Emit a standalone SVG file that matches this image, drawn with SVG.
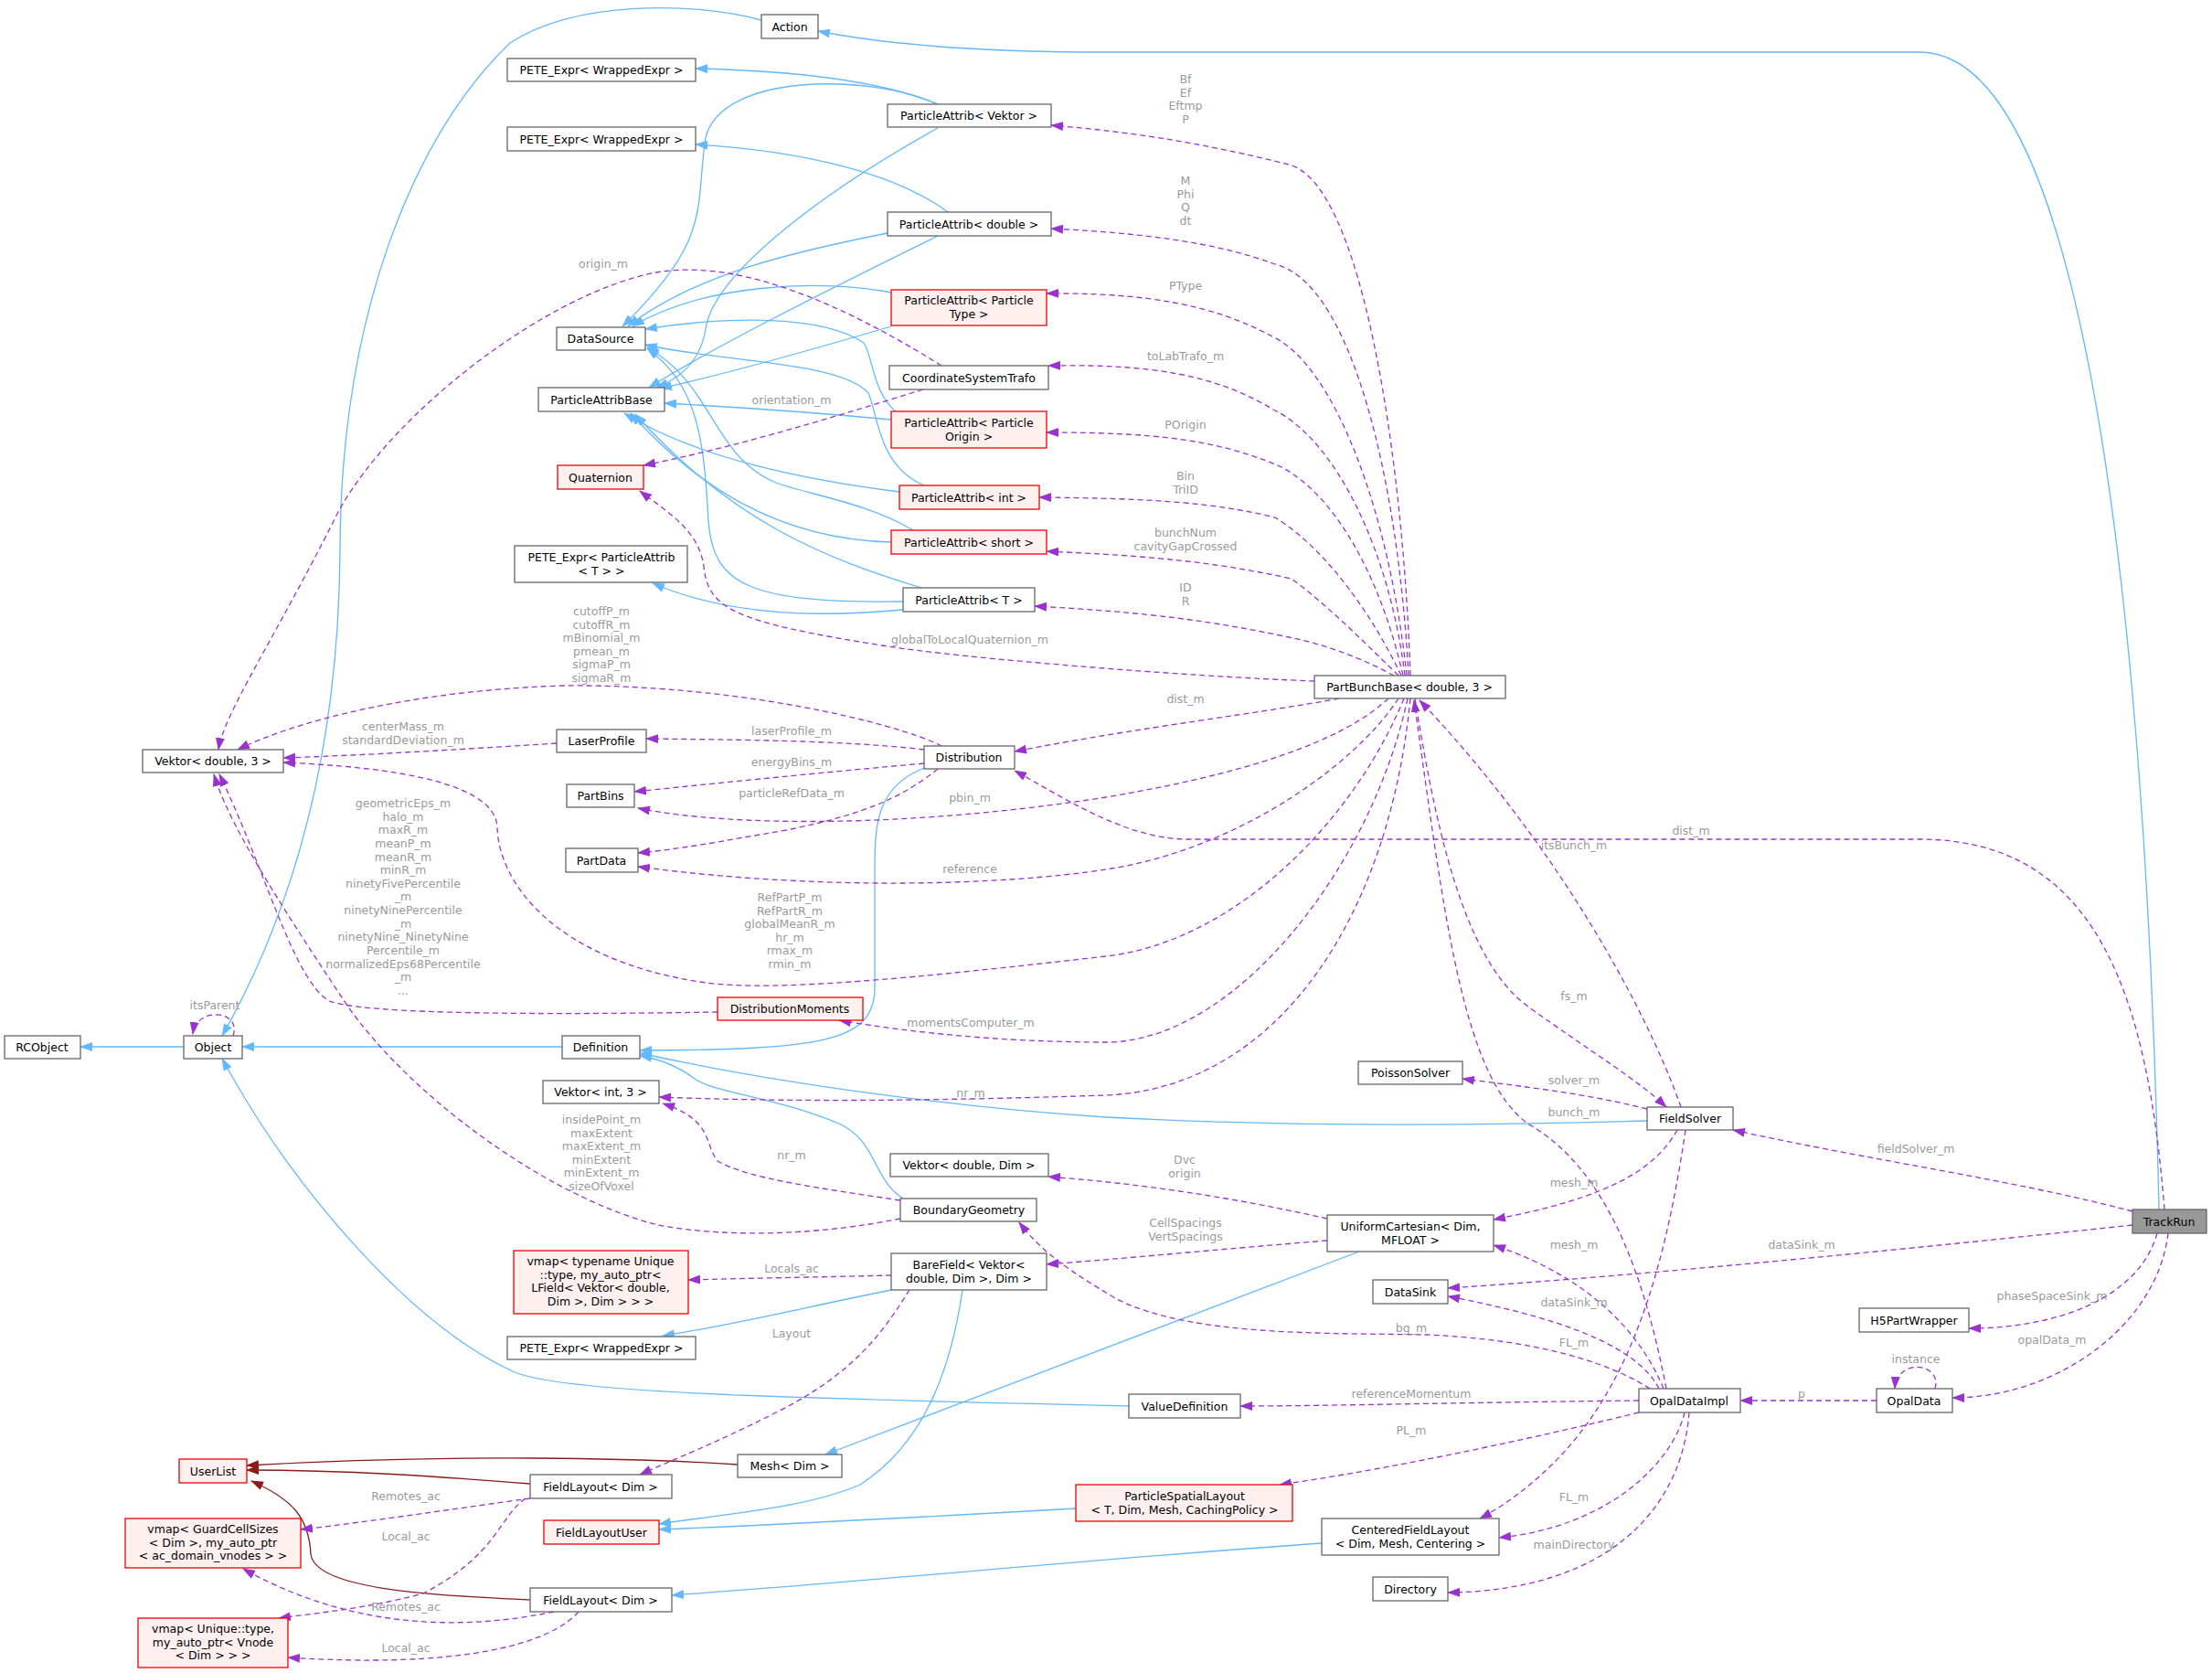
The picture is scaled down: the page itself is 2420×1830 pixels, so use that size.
<svg xmlns="http://www.w3.org/2000/svg" width="2420" height="1830" viewBox="0 0 2420 1830">
<style>
text{font-family:"DejaVu Sans","Liberation Sans",sans-serif;font-size:12.5px;text-anchor:middle;fill:#000}
.n rect{fill:#fff;stroke:#666;stroke-width:1.3}
.r rect{fill:#fff0f0;stroke:#e00;stroke-width:1.3}
.g rect{fill:#999;stroke:#666;stroke-width:1.3}
.b{fill:none;stroke:#63b8ff;stroke-width:1.3;marker-end:url(#ab)}
.d{fill:none;stroke:#8b1a1a;stroke-width:1.3;marker-end:url(#ad)}
.p{fill:none;stroke:#9a32cd;stroke-width:1.3;stroke-dasharray:6,4;marker-end:url(#ap)}
.l text{fill:#9a9a9a}
</style>
<defs>
<marker id="ab" markerWidth="14" markerHeight="10" refX="13" refY="5" orient="auto" markerUnits="userSpaceOnUse"><path d="M0,0 L14,5 L0,10 z" fill="#63b8ff"/></marker>
<marker id="ad" markerWidth="14" markerHeight="10" refX="13" refY="5" orient="auto" markerUnits="userSpaceOnUse"><path d="M0,0 L14,5 L0,10 z" fill="#8b1a1a"/></marker>
<marker id="ap" markerWidth="14" markerHeight="10" refX="13" refY="5" orient="auto" markerUnits="userSpaceOnUse"><path d="M0,0 L14,5 L0,10 z" fill="#9a32cd"/></marker>
</defs>
<rect width="2420" height="1830" fill="#fff"/>
<g id="edges">
<path class="b" d="M2362,1323 C2350,800 2300,57 2100,57 L1200,57 C1050,57 950,45 895,34"/>
<path class="b" d="M833,22 C760,2 630,0 558,47 C450,150 373,350 372,600 C371,800 330,980 243,1133"/>
<path class="b" d="M1026,114 C980,95 900,78 761,75"/>
<path class="b" d="M1026,114 C950,80 790,80 772,150 C760,230 780,260 681,357"/>
<path class="b" d="M1026,140 C900,210 780,300 772,360 C765,400 740,415 718,424"/>
<path class="b" d="M1037,232 C980,190 880,165 761,158"/>
<path class="b" d="M971,255 C870,275 760,300 687,357"/>
<path class="b" d="M1026,258 C900,320 780,380 710,424"/>
<path class="b" d="M975,320 C900,305 770,310 692,357"/>
<path class="b" d="M975,357 C880,385 790,410 722,425"/>
<path class="b" d="M980,450 C955,430 955,390 945,375 C900,345 800,345 706,360"/>
<path class="b" d="M975,459 C900,452 800,445 727,441"/>
<path class="b" d="M1011,531 C960,510 960,450 950,430 C920,395 780,395 706,377"/>
<path class="b" d="M984,538 C880,525 760,500 683,452"/>
<path class="b" d="M999,580 C950,550 880,540 849,528 C780,500 780,420 708,380"/>
<path class="b" d="M975,593 C850,590 760,530 690,452"/>
<path class="b" d="M988,658 C820,660 780,640 775,570 C770,470 760,420 708,381"/>
<path class="b" d="M1008,643 C900,610 800,570 695,453"/>
<path class="b" d="M988,667 C900,675 800,675 714,638"/>
<path class="b" d="M201,1145 L88,1145"/>
<path class="b" d="M615,1145 L265,1145"/>
<path class="b" d="M1011,840 C960,860 957,900 957,950 L957,1080 C957,1140 900,1148 700,1149"/>
<path class="b" d="M1802,1226 C1600,1232 1400,1232 1210,1222 C1050,1212 850,1185 700,1152"/>
<path class="b" d="M988,1311 C955,1290 960,1250 920,1230 C850,1200 780,1195 760,1180 C740,1165 720,1158 700,1155"/>
<path class="b" d="M1235,1538 C900,1530 620,1525 563,1501 C450,1450 320,1300 243,1158"/>
<path class="b" d="M975,1411 C880,1430 800,1450 725,1461"/>
<path class="b" d="M1053,1411 C1040,1500 1010,1580 941,1624 C880,1650 800,1655 721,1667"/>
<path class="b" d="M1487,1369 L903,1591"/>
<path class="b" d="M1177,1650 C1000,1660 850,1668 721,1673"/>
<path class="b" d="M1446,1688 C1200,1705 950,1730 735,1745"/>
<path class="d" d="M807,1602 C700,1595 500,1590 270,1603"/>
<path class="d" d="M580,1623 C480,1615 380,1608 270,1608"/>
<path class="d" d="M580,1750 C480,1745 345,1740 340,1700 C338,1660 320,1640 275,1620"/>
<path class="p" d="M1543,739 C1535,500 1490,200 1410,180 C1330,160 1250,145 1150,137"/>
<path class="p" d="M1541,739 C1530,530 1480,310 1395,289 C1330,265 1250,255 1150,250"/>
<path class="p" d="M1539,739 C1520,560 1460,400 1392,368 C1330,335 1260,320 1145,321"/>
<path class="p" d="M1537,739 C1520,600 1460,480 1393,448 C1330,410 1260,398 1147,400"/>
<path class="p" d="M1535,739 C1510,630 1460,540 1400,510 C1330,480 1260,473 1145,473"/>
<path class="p" d="M1533,739 C1500,670 1450,600 1395,566 C1330,550 1260,545 1137,544"/>
<path class="p" d="M1530,739 C1490,700 1450,660 1413,633 C1330,615 1260,608 1145,603"/>
<path class="p" d="M1525,739 C1490,720 1450,705 1410,697 C1330,680 1260,670 1132,663"/>
<path class="p" d="M1438,745 C1300,740 1050,720 965,706 C800,680 775,665 770,620 C765,580 730,560 700,537"/>
<path class="p" d="M1465,764 C1380,780 1250,795 1110,822"/>
<path class="p" d="M1519,764 C1480,800 1400,840 1210,872 C1000,905 800,905 698,884"/>
<path class="p" d="M1530,764 C1480,840 1350,930 1210,951 C1100,968 900,975 698,948"/>
<path class="p" d="M1536,764 C1480,900 1350,1030 1210,1046 C1000,1070 850,1085 772,1075 C600,1050 545,960 544,905 C542,850 400,838 310,834"/>
<path class="p" d="M1540,764 C1500,950 1350,1140 1210,1140 C1100,1140 1000,1130 918,1116"/>
<path class="p" d="M1543,764 C1520,1000 1400,1190 1210,1198 C1000,1205 850,1205 721,1200"/>
<path class="p" d="M1839,1211 C1800,1100 1700,920 1553,766"/>
<path class="p" d="M1548,764 C1570,900 1600,1050 1673,1102 C1740,1150 1790,1180 1823,1211"/>
<path class="p" d="M1823,1519 C1800,1400 1760,1280 1673,1230 C1600,1180 1580,1000 1547,766"/>
<path class="p" d="M2368,1323 C2350,1100 2300,918 2100,918 L1300,918 C1230,918 1160,870 1110,843"/>
<path class="p" d="M1030,400 C950,350 820,280 718,298 C600,320 430,450 370,560 C300,700 245,780 239,820"/>
<path class="p" d="M1010,426 C900,460 800,490 704,509"/>
<path class="p" d="M1030,816 C980,790 800,748 617,750 C450,755 320,790 260,820"/>
<path class="p" d="M609,813 C500,820 400,826 310,829"/>
<path class="p" d="M1011,820 C930,810 800,809 707,808"/>
<path class="p" d="M1011,835 C900,845 800,855 694,866"/>
<path class="p" d="M1026,841 C990,870 950,890 860,908 C790,920 750,928 698,933"/>
<path class="p" d="M785,1107 C600,1110 400,1110 360,1095 C320,1070 290,950 240,847"/>
<path class="p" d="M985,1333 C900,1350 800,1355 720,1340 C600,1310 450,1200 380,1100 C300,980 250,900 234,847"/>
<path class="p" d="M985,1313 C900,1300 820,1290 785,1270 C770,1250 780,1225 725,1207"/>
<path class="p" d="M1452,1333 C1350,1310 1250,1295 1147,1287"/>
<path class="p" d="M1452,1357 C1350,1365 1250,1375 1145,1383"/>
<path class="p" d="M975,1395 C900,1397 820,1398 753,1400"/>
<path class="p" d="M995,1411 C970,1450 940,1500 849,1545 C780,1580 740,1595 700,1613"/>
<path class="p" d="M580,1639 C500,1650 400,1665 329,1673"/>
<path class="p" d="M575,1639 C545,1660 545,1700 463,1743 C400,1760 340,1765 305,1770"/>
<path class="p" d="M606,1763 C500,1785 380,1780 266,1716"/>
<path class="p" d="M633,1763 C600,1800 500,1825 315,1813"/>
<path class="p" d="M255,1133 C265,1105 215,1100 211,1131"/>
<path class="p" d="M2117,1519 C2125,1490 2075,1485 2073,1519"/>
<path class="p" d="M1802,1213 C1730,1195 1660,1188 1600,1180"/>
<path class="p" d="M1835,1236 C1810,1280 1760,1310 1634,1334"/>
<path class="p" d="M1844,1236 C1820,1400 1780,1520 1700,1600 C1670,1630 1640,1650 1619,1661"/>
<path class="p" d="M1820,1519 C1800,1470 1750,1400 1634,1362"/>
<path class="p" d="M1815,1519 C1790,1470 1700,1440 1584,1418"/>
<path class="p" d="M2333,1340 C2100,1365 1800,1395 1584,1409"/>
<path class="p" d="M2333,1325 C2200,1290 2050,1270 1896,1236"/>
<path class="p" d="M1805,1519 C1760,1490 1680,1465 1560,1460 C1450,1458 1300,1462 1220,1420 C1170,1390 1140,1370 1115,1337"/>
<path class="p" d="M1793,1532 C1600,1534 1450,1538 1357,1538"/>
<path class="p" d="M1793,1545 C1650,1580 1500,1610 1400,1624"/>
<path class="p" d="M1843,1545 C1830,1600 1760,1670 1640,1682"/>
<path class="p" d="M1848,1545 C1840,1650 1760,1740 1584,1742"/>
<path class="p" d="M2053,1532 L1904,1532"/>
<path class="p" d="M2360,1349 C2340,1420 2250,1453 2154,1453"/>
<path class="p" d="M2372,1349 C2360,1450 2250,1529 2136,1529"/>
</g>
<g class="l">
<text x="1297" y="91">Bf</text><text x="1297" y="106">Ef</text><text x="1297" y="120">Eftmp</text><text x="1297" y="135">P</text>
<text x="1297" y="202">M</text><text x="1297" y="217">Phi</text><text x="1297" y="231">Q</text><text x="1297" y="246">dt</text>
<text x="1297" y="317">PType</text>
<text x="1297" y="394">toLabTrafo_m</text>
<text x="1297" y="469">POrigin</text>
<text x="1297" y="525">Bin</text><text x="1297" y="540">TriID</text>
<text x="1297" y="587">bunchNum</text><text x="1297" y="602">cavityGapCrossed</text>
<text x="1297" y="647">ID</text><text x="1297" y="662">R</text>
<text x="1061" y="704">globalToLocalQuaternion_m</text>
<text x="660" y="293">origin_m</text>
<text x="866" y="442">orientation_m</text>
<text x="658" y="673">cutoffP_m</text><text x="658" y="688">cutoffR_m</text><text x="658" y="702">mBinomial_m</text><text x="658" y="717">pmean_m</text><text x="658" y="731">sigmaP_m</text><text x="658" y="746">sigmaR_m</text>
<text x="441" y="799">centerMass_m</text><text x="441" y="814">standardDeviation_m</text>
<text x="866" y="804">laserProfile_m</text>
<text x="866" y="838">energyBins_m</text>
<text x="866" y="872">particleRefData_m</text>
<text x="1061" y="877">pbin_m</text>
<text x="1297" y="769">dist_m</text>
<text x="1850" y="913">dist_m</text>
<text x="1061" y="955">reference</text>
<text x="441" y="883">geometricEps_m</text><text x="441" y="898">halo_m</text><text x="441" y="912">maxR_m</text><text x="441" y="927">meanP_m</text><text x="441" y="942">meanR_m</text><text x="441" y="956">minR_m</text><text x="441" y="971">ninetyFivePercentile</text><text x="441" y="985">_m</text><text x="441" y="1000">ninetyNinePercentile</text><text x="441" y="1015">_m</text><text x="441" y="1029">ninetyNine_NinetyNine</text><text x="441" y="1044">Percentile_m</text><text x="441" y="1059">normalizedEps68Percentile</text><text x="441" y="1073">_m</text><text x="441" y="1088">...</text>
<text x="864" y="986">RefPartP_m</text><text x="864" y="1001">RefPartR_m</text><text x="864" y="1015">globalMeanR_m</text><text x="864" y="1030">hr_m</text><text x="864" y="1044">rmax_m</text><text x="864" y="1059">rmin_m</text>
<text x="235" y="1104">itsParent</text>
<text x="1062" y="1123">momentsComputer_m</text>
<text x="1062" y="1200">nr_m</text>
<text x="658" y="1229">insidePoint_m</text><text x="658" y="1244">maxExtent</text><text x="658" y="1258">maxExtent_m</text><text x="658" y="1273">minExtent</text><text x="658" y="1287">minExtent_m</text><text x="658" y="1302">sizeOfVoxel</text>
<text x="866" y="1268">nr_m</text>
<text x="866" y="1392">Locals_ac</text>
<text x="866" y="1463">Layout</text>
<text x="444" y="1641">Remotes_ac</text>
<text x="444" y="1685">Local_ac</text>
<text x="444" y="1762">Remotes_ac</text>
<text x="444" y="1807">Local_ac</text>
<text x="1722" y="929">itsBunch_m</text>
<text x="1722" y="1094">fs_m</text>
<text x="1722" y="1186">solver_m</text>
<text x="1722" y="1221">bunch_m</text>
<text x="2096" y="1261">fieldSolver_m</text>
<text x="1296" y="1273">Dvc</text><text x="1296" y="1288">origin</text>
<text x="1722" y="1298">mesh_m</text>
<text x="1297" y="1342">CellSpacings</text><text x="1297" y="1357">VertSpacings</text>
<text x="1722" y="1366">mesh_m</text>
<text x="1971" y="1366">dataSink_m</text>
<text x="2245" y="1422">phaseSpaceSink_m</text>
<text x="1722" y="1429">dataSink_m</text>
<text x="1544" y="1457">bg_m</text>
<text x="1722" y="1473">FL_m</text>
<text x="2245" y="1470">opalData_m</text>
<text x="2096" y="1491">instance</text>
<text x="1544" y="1529">referenceMomentum</text>
<text x="1971" y="1529">p</text>
<text x="1544" y="1569">PL_m</text>
<text x="1722" y="1642">FL_m</text>
<text x="1722" y="1694">mainDirectory</text>
</g>
<g id="Action" class="n"><rect x="833" y="16" width="62" height="26"/><text x="864" y="33.5">Action</text></g>
<g id="PETE1" class="n"><rect x="555" y="64" width="206" height="25"/><text x="658" y="81">PETE_Expr&lt; WrappedExpr &gt;</text></g>
<g id="PAVektor" class="n"><rect x="971" y="114" width="179" height="25"/><text x="1060" y="131">ParticleAttrib&lt; Vektor &gt;</text></g>
<g id="PETE2" class="n"><rect x="555" y="139" width="206" height="26"/><text x="658" y="156.5">PETE_Expr&lt; WrappedExpr &gt;</text></g>
<g id="PAdouble" class="n"><rect x="971" y="232" width="179" height="26"/><text x="1060" y="249.5">ParticleAttrib&lt; double &gt;</text></g>
<g id="PAPType" class="r"><rect x="975" y="317" width="170" height="39"/><text x="1060" y="333">ParticleAttrib&lt; Particle</text><text x="1060" y="348">Type &gt;</text></g>
<g id="DataSource" class="n"><rect x="609" y="358" width="97" height="25"/><text x="657" y="375">DataSource</text></g>
<g id="CST" class="n"><rect x="973" y="400" width="174" height="26"/><text x="1060" y="417.5">CoordinateSystemTrafo</text></g>
<g id="PABase" class="n"><rect x="589" y="424" width="138" height="26"/><text x="658" y="441.5">ParticleAttribBase</text></g>
<g id="PAPOrigin" class="r"><rect x="975" y="450" width="170" height="40"/><text x="1060" y="466.5">ParticleAttrib&lt; Particle</text><text x="1060" y="481.5">Origin &gt;</text></g>
<g id="Quaternion" class="r"><rect x="610" y="509" width="94" height="26"/><text x="657" y="526.5">Quaternion</text></g>
<g id="PAint" class="r"><rect x="984" y="531" width="153" height="26"/><text x="1060" y="548.5">ParticleAttrib&lt; int &gt;</text></g>
<g id="PAshort" class="r"><rect x="975" y="580" width="170" height="26"/><text x="1060" y="597.5">ParticleAttrib&lt; short &gt;</text></g>
<g id="PETE4" class="n"><rect x="563" y="597" width="189" height="40"/><text x="658" y="613.5">PETE_Expr&lt; ParticleAttrib</text><text x="658" y="628.5">&lt; T &gt; &gt;</text></g>
<g id="PAT" class="n"><rect x="988" y="643" width="144" height="26"/><text x="1060" y="660.5">ParticleAttrib&lt; T &gt;</text></g>
<g id="PartBunchBase" class="n"><rect x="1438" y="739" width="209" height="25"/><text x="1542" y="756">PartBunchBase&lt; double, 3 &gt;</text></g>
<g id="LaserProfile" class="n"><rect x="609" y="798" width="98" height="25"/><text x="658" y="815">LaserProfile</text></g>
<g id="VektorD3" class="n"><rect x="156" y="820" width="154" height="25"/><text x="233" y="837">Vektor&lt; double, 3 &gt;</text></g>
<g id="Distribution" class="n"><rect x="1011" y="816" width="99" height="25"/><text x="1060" y="833">Distribution</text></g>
<g id="PartBins" class="n"><rect x="620" y="858" width="74" height="25"/><text x="657" y="875">PartBins</text></g>
<g id="PartData" class="n"><rect x="619" y="928" width="79" height="26"/><text x="658" y="945.5">PartData</text></g>
<g id="DistributionMoments" class="r"><rect x="785" y="1091" width="159" height="25"/><text x="864" y="1108">DistributionMoments</text></g>
<g id="RCObject" class="n"><rect x="5" y="1133" width="83" height="25"/><text x="46" y="1150">RCObject</text></g>
<g id="Object" class="n"><rect x="201" y="1133" width="64" height="25"/><text x="233" y="1150">Object</text></g>
<g id="Definition" class="n"><rect x="615" y="1133" width="85" height="25"/><text x="657" y="1150">Definition</text></g>
<g id="VektorI3" class="n"><rect x="594" y="1182" width="127" height="25"/><text x="657" y="1199">Vektor&lt; int, 3 &gt;</text></g>
<g id="VektorDDim" class="n"><rect x="974" y="1262" width="173" height="25"/><text x="1060" y="1279">Vektor&lt; double, Dim &gt;</text></g>
<g id="BoundaryGeometry" class="n"><rect x="985" y="1311" width="149" height="25"/><text x="1060" y="1328">BoundaryGeometry</text></g>
<g id="vmapTypename" class="r"><rect x="562" y="1368" width="191" height="69"/><text x="657" y="1384">vmap&lt; typename Unique</text><text x="657" y="1398.5">::type, my_auto_ptr&lt;</text><text x="657" y="1413">LField&lt; Vektor&lt; double,</text><text x="657" y="1427.5">Dim &gt;, Dim &gt; &gt; &gt;</text></g>
<g id="BareField" class="n"><rect x="975" y="1371" width="170" height="40"/><text x="1060" y="1387.5">BareField&lt; Vektor&lt;</text><text x="1060" y="1402.5">double, Dim &gt;, Dim &gt;</text></g>
<g id="PETE3" class="n"><rect x="555" y="1462" width="206" height="25"/><text x="658" y="1479">PETE_Expr&lt; WrappedExpr &gt;</text></g>
<g id="UserList" class="r"><rect x="196" y="1596" width="74" height="26"/><text x="233" y="1613.5">UserList</text></g>
<g id="Mesh" class="n"><rect x="807" y="1591" width="114" height="25"/><text x="864" y="1608">Mesh&lt; Dim &gt;</text></g>
<g id="FieldLayout1" class="n"><rect x="580" y="1613" width="155" height="26"/><text x="657" y="1630.5">FieldLayout&lt; Dim &gt;</text></g>
<g id="vmapGCS" class="r"><rect x="137" y="1661" width="192" height="54"/><text x="233" y="1677">vmap&lt; GuardCellSizes</text><text x="233" y="1691.5">&lt; Dim &gt;, my_auto_ptr</text><text x="233" y="1706">&lt; ac_domain_vnodes &gt; &gt;</text></g>
<g id="FieldLayoutUser" class="r"><rect x="595" y="1663" width="126" height="26"/><text x="658" y="1680.5">FieldLayoutUser</text></g>
<g id="FieldLayout2" class="n"><rect x="580" y="1737" width="155" height="26"/><text x="657" y="1754.5">FieldLayout&lt; Dim &gt;</text></g>
<g id="vmapUnique" class="r"><rect x="151" y="1770" width="164" height="54"/><text x="233" y="1786">vmap&lt; Unique::type,</text><text x="233" y="1800.5">my_auto_ptr&lt; Vnode</text><text x="233" y="1815">&lt; Dim &gt; &gt; &gt;</text></g>
<g id="PoissonSolver" class="n"><rect x="1486" y="1161" width="114" height="25"/><text x="1543" y="1178">PoissonSolver</text></g>
<g id="FieldSolver" class="n"><rect x="1802" y="1211" width="94" height="25"/><text x="1849" y="1228">FieldSolver</text></g>
<g id="TrackRun" class="g"><rect x="2333" y="1323" width="81" height="26"/><text x="2373" y="1340.5">TrackRun</text></g>
<g id="UniformCartesian" class="n"><rect x="1452" y="1329" width="182" height="40"/><text x="1543" y="1345.5">UniformCartesian&lt; Dim,</text><text x="1543" y="1360.5">MFLOAT &gt;</text></g>
<g id="DataSink" class="n"><rect x="1502" y="1400" width="82" height="26"/><text x="1543" y="1417.5">DataSink</text></g>
<g id="H5PartWrapper" class="n"><rect x="2034" y="1431" width="120" height="26"/><text x="2094" y="1448.5">H5PartWrapper</text></g>
<g id="OpalData" class="n"><rect x="2053" y="1519" width="83" height="26"/><text x="2094" y="1536.5">OpalData</text></g>
<g id="OpalDataImpl" class="n"><rect x="1793" y="1519" width="111" height="26"/><text x="1848" y="1536.5">OpalDataImpl</text></g>
<g id="ValueDefinition" class="n"><rect x="1235" y="1525" width="122" height="26"/><text x="1296" y="1542.5">ValueDefinition</text></g>
<g id="ParticleSpatialLayout" class="r"><rect x="1177" y="1624" width="237" height="40"/><text x="1296" y="1640.5">ParticleSpatialLayout</text><text x="1296" y="1655.5">&lt; T, Dim, Mesh, CachingPolicy &gt;</text></g>
<g id="CenteredFieldLayout" class="n"><rect x="1446" y="1661" width="194" height="40"/><text x="1543" y="1677.5">CenteredFieldLayout</text><text x="1543" y="1692.5">&lt; Dim, Mesh, Centering &gt;</text></g>
<g id="Directory" class="n"><rect x="1502" y="1725" width="82" height="26"/><text x="1543" y="1742.5">Directory</text></g>
</svg>
